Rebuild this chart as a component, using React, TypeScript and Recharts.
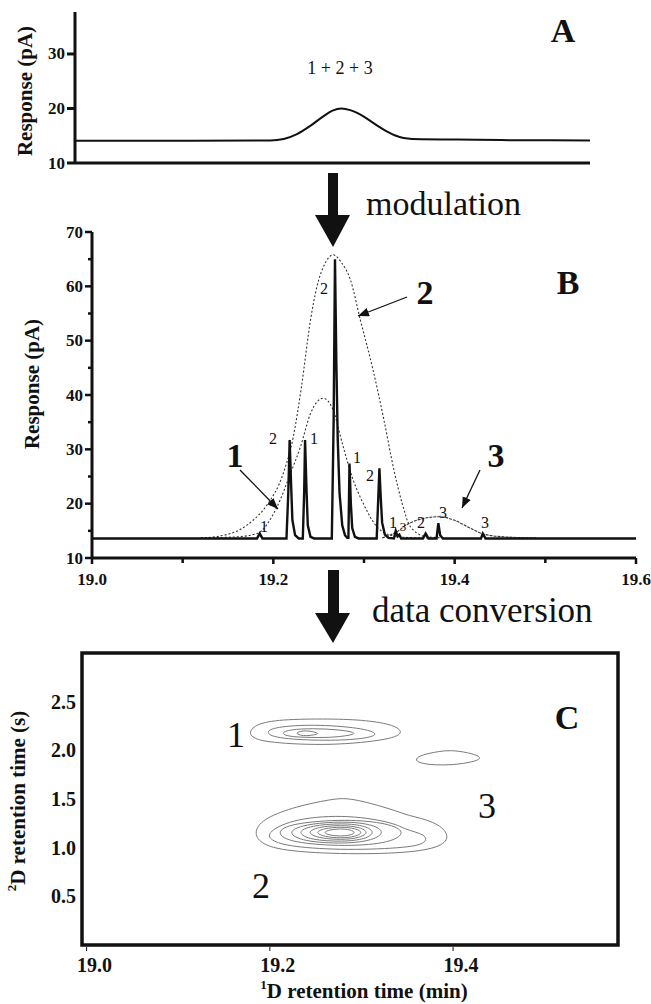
import React from "react";
import { LineChart, Line, XAxis, YAxis, ReferenceArea } from "recharts";

const SERIF = '"Liberation Serif", "Times New Roman", serif';
const INK = "#111";

// ---- panel A: 1D trace (no modulation)
const A_TICKS = [10, 20, 30];
const A_TIME = [18.97, 19.1, 19.19, 19.205, 19.22, 19.235, 19.25, 19.26, 19.27, 19.28, 19.29, 19.3, 19.31, 19.32, 19.33, 19.34, 19.36, 19.4, 19.45, 19.55];
const A_RESP = [14.1, 14.1, 14.15, 14.4, 15.3, 16.8, 18.6, 19.6, 20.0, 19.7, 19.0, 18.0, 16.9, 15.9, 15.1, 14.6, 14.35, 14.3, 14.2, 14.15];

// ---- panel B: modulated trace + envelopes of compounds 1, 2, 3
const B_X_TICKS = [19.0, 19.1, 19.2, 19.3, 19.4, 19.5, 19.6];
const B_Y_TICKS = [10, 15, 20, 25, 30, 35, 40, 45, 50, 55, 60, 65, 70];
const B_TRACE: [number, number][] = [
  [19.0, 13.6], [19.182, 13.6], [19.185, 14.5], [19.188, 13.6],
  [19.2145, 13.6], [19.2165, 22], [19.218, 31.7], [19.2195, 24], [19.221, 17], [19.224, 14.2], [19.228, 13.6],
  [19.2325, 13.6], [19.234, 22], [19.235, 31.7], [19.2365, 23], [19.238, 16], [19.241, 13.9], [19.245, 13.6],
  [19.2645, 13.6], [19.2665, 35], [19.268, 65], [19.2695, 46], [19.271, 32], [19.273, 22], [19.276, 16], [19.279, 14.2], [19.2815, 13.7],
  [19.2828, 13.7], [19.284, 27.4], [19.2855, 20], [19.287, 15.5], [19.29, 13.9], [19.294, 13.6],
  [19.314, 13.6], [19.3155, 20], [19.317, 26.5], [19.3185, 21], [19.32, 16.5], [19.323, 14.3], [19.327, 13.7],
  [19.333, 13.6], [19.335, 15.0], [19.337, 14.0], [19.339, 14.3], [19.341, 13.6],
  [19.365, 13.6], [19.368, 14.5], [19.371, 13.6],
  [19.38, 13.6], [19.382, 16.4], [19.384, 14.2], [19.387, 13.6],
  [19.429, 13.6], [19.431, 14.5], [19.434, 13.6],
  [19.6, 13.6],
];
const ENVELOPE_1: [number, number][] = [
  [19.12, 13.7], [19.16, 13.9], [19.182, 14.5], [19.204, 19.4], [19.219, 25.6], [19.23, 30.5], [19.241, 36.6],
  [19.255, 39.4], [19.266, 37.2], [19.277, 30.5], [19.288, 24.4], [19.299, 20.1], [19.314, 15.8], [19.329, 14.2],
  [19.345, 13.8], [19.37, 13.7],
];
const ENVELOPE_2: [number, number][] = [
  [19.12, 13.7], [19.141, 14.05], [19.163, 15.2], [19.178, 17.0], [19.193, 19.75], [19.211, 25.6], [19.222, 32.3],
  [19.231, 41.5], [19.241, 53.8], [19.248, 59.9], [19.257, 64.2], [19.266, 65.8], [19.275, 64.4], [19.285, 61.2],
  [19.296, 53.8], [19.31, 44.6], [19.322, 35.4], [19.333, 26.2], [19.342, 20.1], [19.351, 15.8], [19.369, 13.9],
  [19.39, 13.7],
];
const ENVELOPE_3: [number, number][] = [
  [19.32, 13.7], [19.336, 14.8], [19.347, 16.1], [19.366, 17.3], [19.383, 17.6], [19.399, 17.0], [19.417, 15.5],
  [19.432, 14.4], [19.454, 13.9], [19.49, 13.7],
];

// ---- panel C: 2D contour plot
const C_X_TICKS = [19.0, 19.2, 19.4];
const C_Y_TICKS = [0.5, 1.0, 1.5, 2.0, 2.5];
const PEAK1_CONTOURS: [number, number][][] = [
  [[19.177, 2.186], [19.185, 2.27], [19.21, 2.318], [19.266, 2.325], [19.306, 2.31], [19.336, 2.26], [19.346, 2.186], [19.334, 2.112], [19.266, 2.045], [19.196, 2.08], [19.181, 2.13]],
  [[19.195, 2.186], [19.205, 2.24], [19.247, 2.268], [19.3, 2.232], [19.322, 2.165], [19.3, 2.112], [19.255, 2.097], [19.205, 2.125]],
  [[19.211, 2.175], [19.222, 2.215], [19.247, 2.225], [19.275, 2.214], [19.3, 2.175], [19.275, 2.136], [19.255, 2.13], [19.222, 2.136]],
  [[19.228, 2.176], [19.233, 2.196], [19.24, 2.203], [19.248, 2.19], [19.254, 2.172], [19.248, 2.158], [19.24, 2.148], [19.233, 2.155]],
];
const PEAK2_CONTOURS: [number, number][][] = [
  [[19.183, 1.178], [19.194, 1.305], [19.229, 1.425], [19.266, 1.495], [19.287, 1.52], [19.338, 1.38], [19.349, 1.335], [19.38, 1.27], [19.396, 1.144], [19.391, 1.02], [19.357, 0.948], [19.287, 0.93], [19.211, 0.965], [19.187, 1.059]],
  [[19.197, 1.162], [19.227, 1.302], [19.287, 1.34], [19.338, 1.25], [19.346, 1.19], [19.371, 1.134], [19.371, 1.05], [19.353, 1.0], [19.284, 0.972], [19.222, 1.008], [19.2, 1.075]],
  [[19.206, 1.155], [19.222, 1.25], [19.284, 1.296], [19.33, 1.25], [19.349, 1.162], [19.333, 1.05], [19.284, 1.01], [19.222, 1.05]],
  [[19.218, 1.155], [19.236, 1.24], [19.282, 1.274], [19.313, 1.238], [19.326, 1.16], [19.313, 1.075], [19.282, 1.038], [19.236, 1.062]],
  [[19.229, 1.158], [19.244, 1.226], [19.28, 1.254], [19.305, 1.224], [19.315, 1.158], [19.305, 1.088], [19.28, 1.06], [19.244, 1.078]],
  [[19.24, 1.157], [19.252, 1.212], [19.278, 1.234], [19.299, 1.21], [19.308, 1.157], [19.299, 1.102], [19.278, 1.078], [19.252, 1.1]],
  [[19.249, 1.156], [19.259, 1.198], [19.277, 1.215], [19.294, 1.198], [19.302, 1.156], [19.294, 1.114], [19.277, 1.095], [19.259, 1.114]],
  [[19.258, 1.156], [19.265, 1.184], [19.277, 1.196], [19.288, 1.184], [19.294, 1.156], [19.288, 1.128], [19.277, 1.116], [19.265, 1.128]],
];
const PEAK3_CONTOURS: [number, number][][] = [
  [[19.358, 1.91], [19.366, 1.955], [19.385, 1.99], [19.397, 2.002], [19.416, 1.98], [19.434, 1.925], [19.421, 1.878], [19.4, 1.85], [19.38, 1.848], [19.363, 1.868]],
];

const toXY = (pts: [number, number][]) => pts.map(([x, y]) => ({ x, y }));

const labelStyle = (size: number) => ({
  fontFamily: SERIF,
  fontSize: size,
  fontWeight: 700,
  fill: INK,
});

// tick renderers draw their own tick marks (tickSize/tickMargin are 0, so x/y sit on the axis)
const leftTick = (size: number, len: (v: number) => number, label: (v: number) => string, gap = 2, width = 2.5) =>
  (props: any) => {
    const { x, y, payload } = props;
    const v = payload.value as number;
    const l = len(v);
    return (
      <g>
        {l > 0 && <line x1={x - l} x2={x} y1={y} y2={y} stroke={INK} strokeWidth={width} />}
        <text x={x - l - gap} y={y} textAnchor="end" dominantBaseline="central" style={labelStyle(size)}>{label(v)}</text>
      </g>
    );
  };

const bottomTick = (size: number, len: (v: number) => number, label: (v: number) => string, dy: number, dx = 0, width = 2.5, start = 0) =>
  (props: any) => {
    const { x, y, payload } = props;
    const v = payload.value as number;
    const l = len(v);
    return (
      <g>
        {l > 0 && <line x1={x} x2={x} y1={y + start} y2={y + start + l} stroke={INK} strokeWidth={width} />}
        <text x={x + dx} y={y + dy} textAnchor="middle" dominantBaseline="central" style={labelStyle(size)}>{label(v)}</text>
      </g>
    );
  };

const isEven = (v: number) => Math.round(v * 10) % 2 === 0;

function PanelA() {
  const data = A_TIME.map((t, i) => ({ x: t, y: A_RESP[i] }));
  return (
    <LineChart width={651} height={185} data={data} margin={{ top: 12, right: 61, bottom: 12, left: 30 }}>
      <XAxis type="number" dataKey="x" domain={[18.97, 19.55]} allowDataOverflow tick={false} tickLine={false} axisLine={{ stroke: INK, strokeWidth: 3 }} height={10} />
      <YAxis type="number" domain={[10, 37.7]} ticks={A_TICKS} allowDataOverflow width={45} tickSize={0} tickMargin={0} tickLine={false}
        tick={leftTick(17, () => 8, (v) => String(v), 2, 3)} axisLine={{ stroke: INK, strokeWidth: 3 }} />
      <Line dataKey="y" type="monotone" stroke={INK} strokeWidth={2} dot={false} activeDot={false} isAnimationActive={false} />
    </LineChart>
  );
}

function PanelB() {
  const envelope = (pts: [number, number][], dash: string, key: string) => (
    <Line key={key} data={toXY(pts)} dataKey="y" type="monotone" stroke="#333" strokeWidth={1.1} strokeDasharray={dash} dot={false} activeDot={false} isAnimationActive={false} />
  );
  return (
    <LineChart width={651} height={380} margin={{ top: 12, right: 15, bottom: 12, left: 40 }}>
      <XAxis type="number" dataKey="x" domain={[19.0, 19.6]} ticks={B_X_TICKS} allowDataOverflow height={30} tickSize={0} tickMargin={0} tickLine={false}
        tick={bottomTick(17, (v) => (isEven(v) ? 6 : 5), (v) => (isEven(v) ? v.toFixed(1) : ""), 21)}
        axisLine={{ stroke: INK, strokeWidth: 3 }} />
      <YAxis type="number" domain={[10, 70]} ticks={B_Y_TICKS} allowDataOverflow width={52} tickSize={0} tickMargin={0} tickLine={false}
        tick={leftTick(17, (v) => (v % 10 === 0 ? 7 : 4), (v) => (v % 10 === 0 ? String(v) : ""), 2)}
        axisLine={{ stroke: INK, strokeWidth: 3 }} />
      {envelope(ENVELOPE_2, "2 2", "e2")}
      {envelope(ENVELOPE_1, "2 2", "e1")}
      {envelope(ENVELOPE_3, "3 1", "e3")}
      <Line data={toXY(B_TRACE)} dataKey="y" type="linear" stroke={INK} strokeWidth={2.4} dot={false} activeDot={false} isAnimationActive={false} />
    </LineChart>
  );
}

function PanelC() {
  const all = [...PEAK1_CONTOURS, ...PEAK3_CONTOURS, ...PEAK2_CONTOURS];
  return (
    <LineChart width={651} height={364} margin={{ top: 13, right: 33, bottom: 24, left: 32 }}>
      <XAxis type="number" dataKey="x" domain={[18.995, 19.58]} ticks={C_X_TICKS} allowDataOverflow height={35} tickSize={0} tickMargin={0} tickLine={false}
        tick={bottomTick(20, () => 4, (v) => v.toFixed(1), 20, 8, 1, 2)} axisLine={false} />
      <YAxis type="number" domain={[0, 3]} ticks={C_Y_TICKS} allowDataOverflow width={50} tickSize={0} tickMargin={0} tickLine={false}
        tick={leftTick(20, () => 0, (v) => v.toFixed(1), 6)} axisLine={false} />
      {all.map((c, i) => (
        <Line key={i} data={toXY(c)} dataKey="y" type="basisClosed" stroke="#7a7a7a" strokeWidth={1} dot={false} activeDot={false} isAnimationActive={false} />
      ))}
      <ReferenceArea x1={18.995} x2={19.58} y1={0} y2={3} fill="none" fillOpacity={0} stroke={INK} strokeWidth={3.5} />
    </LineChart>
  );
}

function Overlay() {
  const txt = { fontFamily: SERIF, fill: INK };
  const small = { ...txt, fontSize: 16, textAnchor: "middle" as const, dominantBaseline: "central" as const };
  const big = { ...txt, fontSize: 34, fontWeight: 700, textAnchor: "middle" as const, dominantBaseline: "central" as const };
  const digit = { ...txt, fontSize: 36, textAnchor: "middle" as const, dominantBaseline: "central" as const };
  return (
    <svg width={651} height={1004} style={{ position: "absolute", left: 0, top: 0, pointerEvents: "none" }}>
      <defs>
        <marker id="head" viewBox="0 0 10 8" markerWidth={11} markerHeight={9} refX={10} refY={4} orient="auto" markerUnits="userSpaceOnUse">
          <path d="M0,0 L10,4 L0,8 Z" fill={INK} />
        </marker>
      </defs>

      {/* y labels */}
      <text transform="translate(25,91) rotate(-90)" {...txt} fontSize={21} fontWeight={700} textAnchor="middle" dominantBaseline="central">Response (pA)</text>
      <text transform="translate(32,384) rotate(-90)" {...txt} fontSize={21} fontWeight={700} textAnchor="middle" dominantBaseline="central">Response (pA)</text>
      <text transform="translate(18,801) rotate(-90)" {...txt} fontSize={21} fontWeight={700} textAnchor="middle" dominantBaseline="central">
        <tspan fontSize={13} dy={-7}>2</tspan><tspan dy={7}>D retention time (s)</tspan>
      </text>
      <text x={364} y={991} {...txt} fontSize={21} fontWeight={700} textAnchor="middle" dominantBaseline="central">
        <tspan fontSize={13} dy={-7}>1</tspan><tspan dy={7}>D retention time (min)</tspan>
      </text>

      {/* panel A */}
      <text x={563} y={30} {...big}>A</text>
      <text x={340} y={68} {...txt} fontSize={18} textAnchor="middle" dominantBaseline="central">1 + 2 + 3</text>

      {/* arrows between panels */}
      <path d="M328,173 H338 V215 H350 L333,247 L315,215 H328 Z" fill={INK} />
      <text x={366} y={215} {...txt} fontSize={34}>modulation</text>
      <path d="M328,570 H339 V613 H350 L333,643 L315,613 H328 Z" fill={INK} />
      <text x={372} y={622} {...txt} fontSize={35}>data conversion</text>

      {/* panel B */}
      <text x={568} y={282} {...big}>B</text>
      <text x={235} y={455} {...big}>1</text>
      <text x={425} y={292} {...big}>2</text>
      <text x={496} y={455} {...big}>3</text>
      <line x1={240} y1={470} x2={278} y2={509} stroke={INK} strokeWidth={1.3} markerEnd="url(#head)" />
      <line x1={407} y1={297} x2={358} y2={316} stroke={INK} strokeWidth={1.3} markerEnd="url(#head)" />
      <line x1={480} y1={470} x2={462} y2={508} stroke={INK} strokeWidth={1.3} markerEnd="url(#head)" />
      <text x={264} y={526} {...small}>1</text>
      <text x={273} y={438} {...small}>2</text>
      <text x={314} y={438} {...small}>1</text>
      <text x={324} y={288} {...small}>2</text>
      <text x={357} y={457} {...small}>1</text>
      <text x={370} y={475} {...small}>2</text>
      <text x={393} y={522} {...small}>1</text>
      <text x={403} y={526} {...small} fontSize={13}>3</text>
      <text x={421} y={522} {...small}>2</text>
      <text x={443} y={512} {...small}>3</text>
      <text x={485} y={522} {...small}>3</text>

      {/* panel C */}
      <text x={567} y={717} {...big}>C</text>
      <text x={236} y={735} {...digit}>1</text>
      <text x={261} y={886} {...digit}>2</text>
      <text x={487} y={806} {...digit}>3</text>
    </svg>
  );
}

export default function App() {
  return (
    <div style={{ position: "absolute", left: 0, top: 0, width: 651, height: 1004, background: "#fff", overflow: "hidden" }}>
      <div style={{ position: "absolute", left: 0, top: 0 }}><PanelA /></div>
      <div style={{ position: "absolute", left: 0, top: 220 }}><PanelB /></div>
      <div style={{ position: "absolute", left: 0, top: 640 }}><PanelC /></div>
      <Overlay />
    </div>
  );
}
